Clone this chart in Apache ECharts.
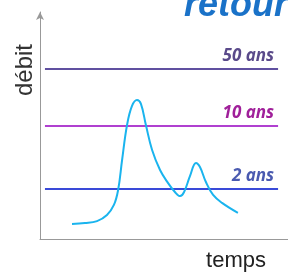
<!DOCTYPE html>
<html><head><meta charset="utf-8">
<script src="https://cdn.jsdelivr.net/npm/echarts@6/dist/echarts.min.js"></script>
<style>html,body{margin:0;padding:0;background:#fff}#c{width:288px;height:276px}</style>
</head><body><div id="c"></div>
<script>
// hydrograph (time, discharge) in arbitrary units
const hydroX = [12.9,18.1,23.0,27.0,29.8,31.5,33.1,35.1,37.1,39.1,40.7,42.7,45.2,48.4,51.6,54.4,56.5,58.1,60.5,62.9,64.5,66.9,69.8,73.4,79.8];
const hydroY = [6.6,7.0,7.9,10.6,15.0,21.6,34.8,50.2,58.6,61.2,59.5,50.2,39.2,30.4,24.7,20.7,18.9,20.7,27.8,33.5,31.7,25.1,19.4,15.9,11.5];
// return-period thresholds
const periodLabels = ['50 ans','10 ans','2 ans'];
const periodValues = [74.9, 49.8, 22.0];
const periodLineColors = ['#6050a0','#b040d0','#3a4ad8'];
const periodTextColors = ['#5a4a8a','#a0209a','#4a5ab0'];
const lineStart = 2, lineEnd = 96;

const chart = echarts.init(document.getElementById('c'));
const thresholdSeries = periodLabels.map((lab, i) => ({
  type: 'line', data: [], silent: true,
  markLine: {
    symbol: 'none', silent: true,
    lineStyle: {color: periodLineColors[i], width: 2, type: 'solid'},
    label: {position: 'insideEndTop', formatter: lab, color: periodTextColors[i],
      fontFamily: 'Open Sans', fontStyle: 'italic', fontWeight: 'bold', fontSize: 17, distance: [4, 4]},
    data: [[{coord: [lineStart, periodValues[i]]}, {coord: [lineEnd, periodValues[i]]}]]
  }
}));
chart.setOption({
  animation: false,
  grid: {left: 40, top: 12, right: 0, bottom: 37},
  xAxis: {type: 'value', min: 0, max: 100, axisLine: {lineStyle: {color: '#999', width: 1}},
    axisTick: {show: false}, axisLabel: {show: false}, splitLine: {show: false}},
  yAxis: {type: 'value', min: 0, max: 100,
    axisLine: {show: true, symbol: ['none', 'arrow'], symbolSize: [6, 8], lineStyle: {color: '#999', width: 1}},
    axisTick: {show: false}, axisLabel: {show: false}, splitLine: {show: false}},
  series: [
    ...thresholdSeries,
    {type: 'line', data: hydroX.map((x, i) => [x, hydroY[i]]), smooth: 0.4, showSymbol: false,
      lineStyle: {color: '#1ab4ee', width: 2}, z: 5}
  ],
  graphic: [
    {type: 'text', x: 25, y: 70, rotation: Math.PI / 2, style: {text: 'débit', font: '24px "Liberation Sans"', fill: '#333', align: 'center', verticalAlign: 'middle'}},
    {type: 'text', x: 236, y: 261, style: {text: 'temps', font: '22px "Liberation Sans"', fill: '#222', align: 'center', verticalAlign: 'middle'}},
    {type: 'text', x: 184, y: 24, style: {text: 'retour', font: 'italic bold 36px "Liberation Sans"', fill: '#1a72c8', align: 'left', verticalAlign: 'bottom'}}
  ]
});
</script></body></html>
